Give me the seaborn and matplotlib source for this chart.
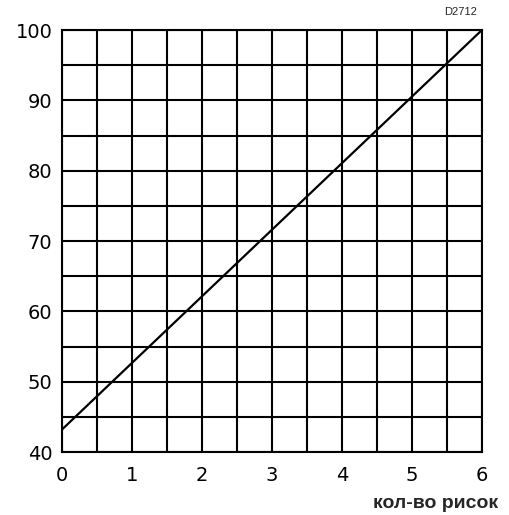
import numpy as np
import pandas as pd
import seaborn as sns
import matplotlib.pyplot as plt
from matplotlib.ticker import MultipleLocator

# line
x_vals = [0, 6]
y_vals = [43.2, 100]
x_ticks = [0, 1, 2, 3, 4, 5, 6]
y_ticks = [40, 50, 60, 70, 80, 90, 100]

sns.set_style("white")
plt.rcParams['font.family'] = ['DejaVu Sans']

df = pd.DataFrame({'x': x_vals, 'y': y_vals})

fig = plt.figure(figsize=(5.09, 5.15), dpi=100)
ax = fig.add_axes([0.1218, 0.1223, 0.825, 0.8194])

sns.lineplot(data=df, x='x', y='y', color='black', linewidth=1.6, ax=ax)

ax.set_xlim(0, 6)
ax.set_ylim(40, 100)
ax.set_xticks(x_ticks)
ax.set_yticks(y_ticks)
ax.xaxis.set_minor_locator(MultipleLocator(0.5))
ax.yaxis.set_minor_locator(MultipleLocator(5))
ax.grid(True, which='both', color='black', linewidth=1.5)
ax.set_axisbelow(True)
for s in ax.spines.values():
    s.set_color('black')
    s.set_linewidth(1.5)
ax.tick_params(which='major', direction='out', length=5, width=1.5,
               colors='black', labelsize=14, pad=2)
ax.tick_params(axis='x', which='major', pad=5)
ax.tick_params(which='minor', length=0)
ax.set_xlabel('')
ax.set_ylabel('')

fig.text(0.855, 0.023, 'кол-во рисок', fontsize=14, fontweight='bold',
         family='Liberation Sans', ha='center', va='center')
fig.text(0.905, 0.977, 'D2712', fontsize=8, family='Liberation Sans',
         ha='center', va='center')

fig.savefig('out.png', dpi=100)
